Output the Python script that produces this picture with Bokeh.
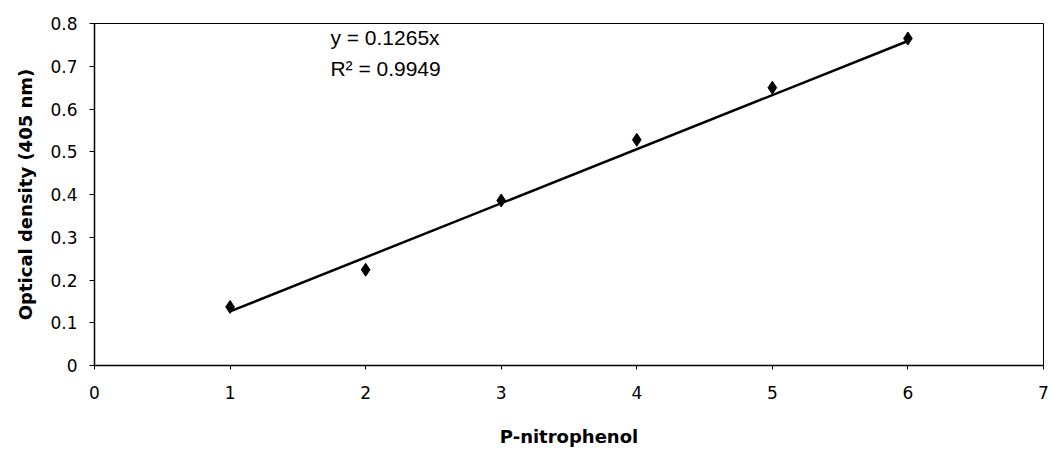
from bokeh.plotting import figure
from bokeh.models import FixedTicker, Range1d, Label
from bokeh.embed import file_html
from bokeh.resources import INLINE

# ---- data ----
x_values = [1, 2, 3, 4, 5, 6]
od_values = [0.137, 0.224, 0.386, 0.528, 0.650, 0.765]
slope = 0.1265
r_squared = 0.9949
x_ticks = [0, 1, 2, 3, 4, 5, 6, 7]
y_ticks = [0, 0.1, 0.2, 0.3, 0.4, 0.5, 0.6, 0.7, 0.8]
y_tick_labels = ["0", "0.1", "0.2", "0.3", "0.4", "0.5", "0.6", "0.7", "0.8"]
x_title = "P-nitrophenol"
y_title = "Optical density (405 nm)"

p = figure(width=1052, height=452, output_backend="svg", toolbar_location=None,
           x_range=Range1d(0, 7), y_range=Range1d(0, 0.8),
           min_border_left=94, min_border_right=9, min_border_top=23, min_border_bottom=87)

p.background_fill_color = "white"
p.border_fill_color = "white"
p.outline_line_color = "black"
p.outline_line_width = 1
p.xgrid.visible = False
p.ygrid.visible = False

# axes
for ax in (p.xaxis[0], p.yaxis[0]):
    ax.axis_line_color = "black"
    ax.axis_line_width = 1.5
    ax.major_tick_line_color = "black"
    ax.major_tick_line_width = 1
    ax.minor_tick_line_color = None
    ax.major_tick_in = 0
    ax.major_label_text_font = "DejaVu Sans"
    ax.major_label_text_font_size = "17px"
    ax.major_label_text_color = "black"
    ax.axis_label_text_font = "DejaVu Sans"
    ax.axis_label_text_font_size = "18px"
    ax.axis_label_text_font_style = "bold"
    ax.axis_label_text_color = "black"

p.xaxis.ticker = FixedTicker(ticks=x_ticks)
p.yaxis.ticker = FixedTicker(ticks=y_ticks)
p.yaxis.major_label_overrides = {t: l for t, l in zip(y_ticks, y_tick_labels)}
p.xaxis.major_tick_out = 4
p.yaxis.major_tick_out = 5
p.xaxis.major_label_standoff = 16
p.yaxis.major_label_standoff = 12
p.xaxis.axis_label = x_title
p.yaxis.axis_label = y_title
p.xaxis.axis_label_standoff = 24
p.yaxis.axis_label_standoff = 11

# trendline through origin, drawn over the data span
x0, x1 = x_values[0], x_values[-1]
p.line(x=[x0, x1], y=[slope * x0, slope * x1], line_color="black", line_width=2.5)

# data points
p.scatter(x=x_values, y=od_values, marker="diamond", size=13,
          fill_color="black", line_color="black")

# equation text
p.add_layout(Label(x=1.74, y=0.767, text=f"y = {slope}x", text_font="Liberation Sans",
                   text_font_size="21px", text_color="black", text_baseline="alphabetic"))
p.add_layout(Label(x=1.74, y=0.695, text=f"R\u00b2 = {r_squared}", text_font="Liberation Sans",
                   text_font_size="21px", text_color="black", text_baseline="alphabetic"))

open("out.html", "w").write(file_html(p, INLINE))
